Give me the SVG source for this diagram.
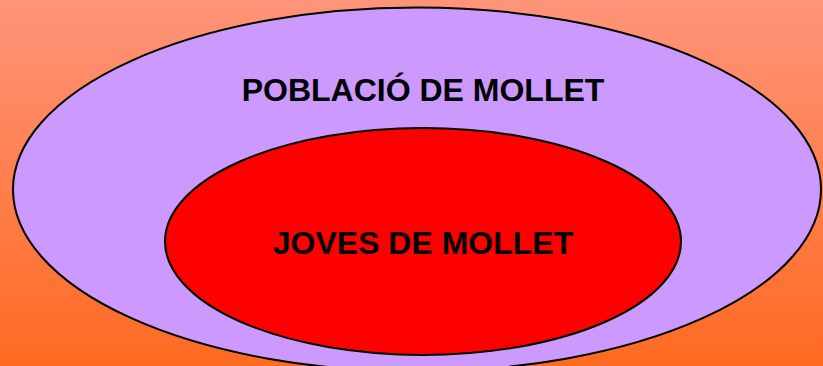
<svg xmlns="http://www.w3.org/2000/svg" width="823" height="366" viewBox="0 0 823 366">
<defs>
<linearGradient id="bg" x1="0" y1="0" x2="0" y2="1">
<stop offset="0" stop-color="#FF9479"/>
<stop offset="1" stop-color="#FF6A22"/>
</linearGradient>
<style>
.lbl{font-family:"Liberation Sans",Arial,sans-serif;font-weight:bold;font-size:32px;fill:#000;text-anchor:middle}
.e{stroke:#000;stroke-width:2}
</style>
</defs>
<rect x="0" y="0" width="823" height="366" fill="url(#bg)"/>
<g id="poblacio">
<ellipse class="e" cx="417" cy="189.5" rx="404" ry="182" fill="#CC99FF"/>
<text class="lbl" x="423" y="101">POBLACIÓ DE MOLLET</text>
</g>
<g id="joves">
<ellipse class="e" cx="423" cy="241.5" rx="258" ry="113.5" fill="#FF0000"/>
<text class="lbl" x="423" y="254">JOVES DE MOLLET</text>
</g>
<g id="connectors"/>
</svg>
